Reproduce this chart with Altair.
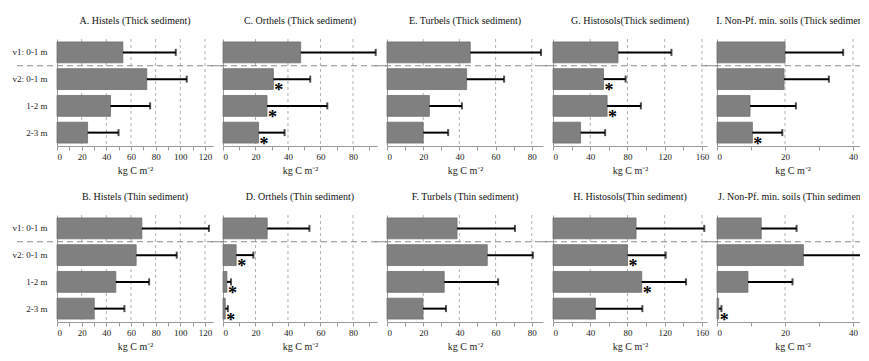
import altair as alt
import pandas as pd

depths = ["v1: 0-1 m", "v2: 0-1 m", "1-2 m", "2-3 m"]

# Top row (thick sediment)
titles_top = ["A. Histels (Thick sediment)", "C. Orthels (Thick sediment)",
              "E. Turbels (Thick sediment)", "G. Histosols(Thick sediment)",
              "I. Non-Pf. min. soils  (Thick sediment)"]
mean_A = [53.4, 72.8, 43.4, 24.8]
err_A = [42.9, 32.4, 32.1, 25.1]
star_A = [False, False, False, False]
mean_C = [47.8, 31.0, 27.1, 21.9]
err_C = [46.2, 22.7, 37.1, 16.0]
star_C = [False, True, True, True]
mean_E = [46.0, 44.0, 23.4, 20.0]
err_E = [39.1, 20.7, 18.0, 13.8]
star_E = [False, False, False, False]
mean_G = [69.8, 54.2, 58.1, 29.6]
err_G = [57.4, 23.8, 36.3, 26.4]
star_G = [False, True, True, False]
mean_I = [20.0, 19.7, 9.7, 10.4]
err_I = [17.1, 13.2, 13.5, 8.8]
star_I = [False, False, False, True]

# Bottom row (thin sediment)
titles_bot = ["B. Histels (Thin sediment)", "D. Orthels (Thin sediment)",
              "F. Turbels (Thin sediment)", "H. Histosols(Thin sediment)",
              "J. Non-Pf. min. soils  (Thin sediment)"]
mean_B = [68.8, 64.2, 47.7, 30.2]
err_B = [54.4, 32.9, 27.0, 24.5]
star_B = [False, False, False, False]
mean_D = [27.2, 8.1, 2.4, 1.4]
err_D = [26.0, 10.6, 2.5, 1.6]
star_D = [False, True, True, True]
mean_F = [38.7, 55.4, 31.6, 19.9]
err_F = [32.0, 25.2, 29.8, 12.7]
star_F = [False, False, False, False]
mean_H = [89.2, 80.0, 95.3, 45.5]
err_H = [73.3, 41.0, 47.6, 50.5]
star_H = [False, True, True, False]
mean_J = [13.0, 25.4, 9.1, 0.5]
err_J = [10.4, 24.0, 13.1, 0.8]
star_J = [False, False, False, True]

# axis settings per column: max, major step, minor step
x_max = [126.5, 94.8, 86.2, 165.4, 44.4]
major_step = [20, 20, 20, 40, 20]
minor_step = [10, 10, 10, 20, 10]
widths = [156, 154, 156, 154, 151]
H = 107

FONT = "Liberation Serif"
AX = "#9a9a9a"


def panel(title, mean, err, star, col):
    df = pd.DataFrame({"depth": depths, "mean": mean, "err": err, "star": star})
    df["upper"] = df["mean"] + df["err"]
    W = widths[col]
    xmax = x_max[col]
    maj = major_step[col]
    mnr = minor_step[col]
    ticks = [v for v in range(0, int(xmax) + 1, mnr)]
    majors = [v for v in range(maj, int(xmax) + 1, maj)]
    xs = alt.Scale(domain=[0, xmax], nice=False, zero=True)
    ys = alt.Scale(domain=depths, paddingInner=0.22, paddingOuter=0.11)
    show = col == 0
    yaxis = alt.Axis(title=None, labels=show, ticks=False, domainColor=AX,
                     labelFont=FONT, labelFontSize=9, labelColor="#222",
                     labelPadding=10, grid=False)
    xaxis = alt.Axis(values=ticks,
                     labelExpr=f"datum.value % {maj} === 0 ? datum.label : ''",
                     grid=False, tickSize=4, domainColor=AX, tickColor=AX,
                     labelFont=FONT, labelFontSize=9, labelColor="#222",
                     labelPadding=2, title="kg C m\u207b\u00b2", titleFont=FONT,
                     titleFontSize=10, titleFontWeight="normal", titleColor="#222",
                     titlePadding=4)
    X = lambda f: alt.X(f, scale=xs, axis=xaxis)
    Y = alt.Y("depth:N", sort=depths, scale=ys, axis=yaxis)
    grid = alt.Chart(pd.DataFrame({"g": majors})).mark_rule(
        color="#b0b0b0", strokeDash=[3, 3], strokeWidth=1
    ).encode(x=X("g:Q"))
    bars = alt.Chart(df).mark_bar(color="#808080", stroke="#6e6e6e", strokeWidth=0.8).encode(
        x=X("mean:Q"), y=Y,
    )
    rules = alt.Chart(df).mark_rule(color="black", strokeWidth=2, clip=True).encode(
        x=X("mean:Q"), x2="upper:Q", y=Y,
    )
    caps = alt.Chart(df).mark_tick(color="black", thickness=2, size=7, clip=True,
                                   orient="vertical").encode(
        x=X("upper:Q"), y=Y,
    )
    stars = alt.Chart(df).transform_filter("datum.star").mark_text(
        text="*", font=FONT, fontSize=18, fontWeight="bold", color="black",
        align="left", baseline="alphabetic", dx=1, dy=17
    ).encode(x=X("mean:Q"), y=Y)
    sep = alt.Chart(pd.DataFrame({"v": [0]})).mark_rule(
        color="#8a8a8a", strokeDash=[6, 4], strokeWidth=1
    ).encode(y=alt.value(H / 4), x=alt.value(-40 if col == 0 else -12),
             x2=alt.value(W + (20 if col == 4 else 12)))
    return alt.layer(grid, bars, rules, caps, stars, sep).properties(
        width=W, height=H,
        title=alt.TitleParams(title, font=FONT, fontSize=10, fontWeight="normal",
                              color="#111", offset=13, anchor="middle"),
    )


top = [
    panel(titles_top[0], mean_A, err_A, star_A, 0),
    panel(titles_top[1], mean_C, err_C, star_C, 1),
    panel(titles_top[2], mean_E, err_E, star_E, 2),
    panel(titles_top[3], mean_G, err_G, star_G, 3),
    panel(titles_top[4], mean_I, err_I, star_I, 4),
]
bot = [
    panel(titles_bot[0], mean_B, err_B, star_B, 0),
    panel(titles_bot[1], mean_D, err_D, star_D, 1),
    panel(titles_bot[2], mean_F, err_F, star_F, 2),
    panel(titles_bot[3], mean_H, err_H, star_H, 3),
    panel(titles_bot[4], mean_J, err_J, star_J, 4),
]

row1 = alt.hconcat(*top, spacing=10, bounds="flush")
row2 = alt.hconcat(*bot, spacing=10, bounds="flush")
chart = alt.vconcat(row1, row2, spacing=16).properties(
    padding={"top": 7, "left": 4, "right": -29, "bottom": 2}
).configure_view(stroke=None)

chart.save("out.html", embed_options={"renderer": "svg", "actions": False})
